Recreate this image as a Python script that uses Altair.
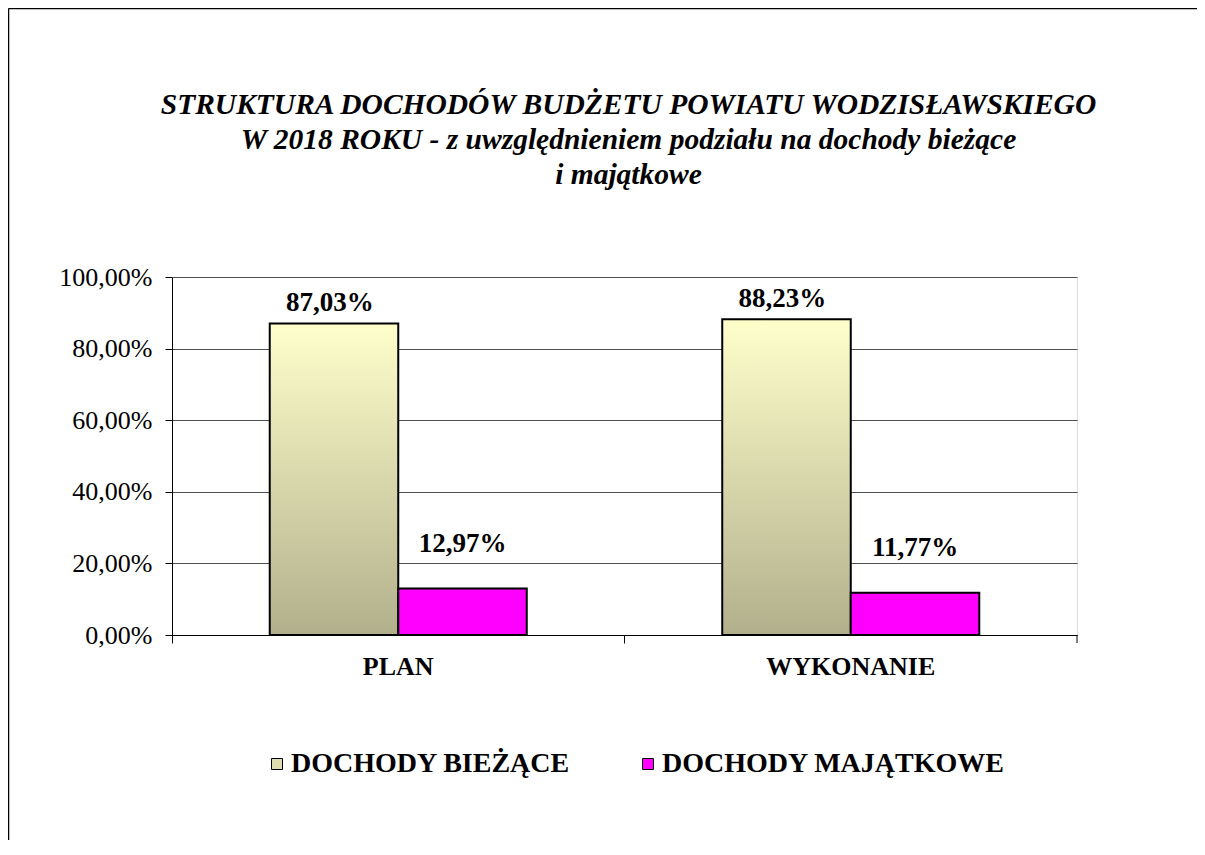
import altair as alt
import pandas as pd

categories = ["PLAN", "WYKONANIE"]
series = ["DOCHODY BIEŻĄCE", "DOCHODY MAJĄTKOWE"]
biezace = [87.03, 88.23]
majatkowe = [12.97, 11.77]

rows = []
for i, c in enumerate(categories):
    rows.append({"kat": c, "seria": series[0], "v": biezace[i] / 100})
    rows.append({"kat": c, "seria": series[1], "v": majatkowe[i] / 100})
df = pd.DataFrame(rows)
df["lab"] = [f"{r*100:.2f}%".replace(".", ",") for r in df["v"]]

FONT = "Liberation Serif"
W, H = 905, 358

grad = alt.LinearGradient(
    gradient="linear",
    stops=[alt.GradientStop(offset=0, color="#FFFFCC"),
           alt.GradientStop(offset=1, color="#B2B08C")],
    x1=0, x2=0, y1=0, y2=1,
)

xenc = alt.X("kat:N", sort=categories,
             scale=alt.Scale(paddingInner=0.432, paddingOuter=0.216),
             axis=alt.Axis(title=None, labelFontSize=26, labelFontWeight="bold",
                           labelFont=FONT, labelColor="black", labelAngle=0,
                           labelPadding=10, tickSize=8, tickColor="black",
                           domainColor="black", bandPosition=-0.38))
yenc = alt.Y("v:Q", scale=alt.Scale(domain=[0, 1]),
             axis=alt.Axis(title=None, values=[0, 0.2, 0.4, 0.6, 0.8, 1.0],
                           labelExpr="replace(format(datum.value, '.2%'), '.', ',')",
                           labelFontSize=26, labelFont=FONT, labelColor="black",
                           tickSize=7, tickColor="black", domainColor="black",
                           labelPadding=13, gridColor="#505050", grid=True))
xoff = alt.XOffset("seria:N", sort=series, scale=alt.Scale(domain=series, paddingInner=0, paddingOuter=0))

base = alt.Chart(df)

b1 = base.transform_filter(alt.datum.seria == series[0]).mark_bar(
    fill=grad, stroke="black", strokeWidth=2).encode(x=xenc, y=yenc, xOffset=xoff)
b2 = base.transform_filter(alt.datum.seria == series[1]).mark_bar(
    stroke="black", strokeWidth=2).encode(
    x=xenc, y=yenc, xOffset=xoff,
    fill=alt.Fill("seria:N", scale=alt.Scale(domain=series, range=["#DCDCB0", "#FF00FF"]),
                  legend=alt.Legend(title=None, orient="none", legendX=91, legendY=473,
                                    direction="horizontal", symbolType="square",
                                    symbolSize=121, symbolStrokeColor="black",
                                    symbolStrokeWidth=1, labelFont=FONT, labelFontSize=28,
                                    labelFontWeight="bold", labelColor="black",
                                    labelLimit=0, labelOffset=0, columnPadding=63)))
t1 = base.transform_filter(alt.datum.seria == series[0]).mark_text(
    font=FONT, fontSize=27, fontWeight="bold", color="black", dy=-12, dx=-4,
    baseline="alphabetic").encode(x=xenc, y=yenc, xOffset=xoff, text="lab:N")
t2 = base.transform_filter(alt.datum.seria == series[1]).mark_text(
    font=FONT, fontSize=27, fontWeight="bold", color="black", dy=-37,
    baseline="alphabetic").encode(x=xenc, y=yenc, xOffset=xoff, text="lab:N")

# right boundary tick below the x axis
rtick = alt.Chart(pd.DataFrame({"a": [0]})).mark_rule(color="black").encode(
    x=alt.value(W), y=alt.value(H), y2=alt.value(H + 8))
# outer chart frame (top and left edges visible)
ftop = alt.Chart(pd.DataFrame({"a": [0]})).mark_rule(color="black", strokeWidth=1.5).encode(
    x=alt.value(-163.5), x2=alt.value(1100), y=alt.value(-268.5))
fleft = alt.Chart(pd.DataFrame({"a": [0]})).mark_rule(color="black", strokeWidth=1.5).encode(
    x=alt.value(-163.5), y=alt.value(-268.5), y2=alt.value(700))

chart = alt.layer(b1, b2, t1, t2, rtick, ftop, fleft).properties(
    width=W, height=H,
    autosize=alt.AutoSizeParams(type="none"),
    padding={"left": 164, "top": 269, "right": 120, "bottom": 205},
    title=alt.Title(
        ["STRUKTURA DOCHODÓW BUDŻETU POWIATU WODZISŁAWSKIEGO",
         "W 2018 ROKU - z uwzględnieniem  podziału na dochody bieżące",
         "i majątkowe"],
        font=FONT, fontSize=29.5, fontStyle="italic", fontWeight="bold",
        color="black", lineHeight=35, offset=-183, anchor="middle", dx=4),
).configure_view(stroke="black", strokeWidth=1.5).configure(background="white")

chart.save("out.html", embed_options={"renderer": "svg", "actions": False})
